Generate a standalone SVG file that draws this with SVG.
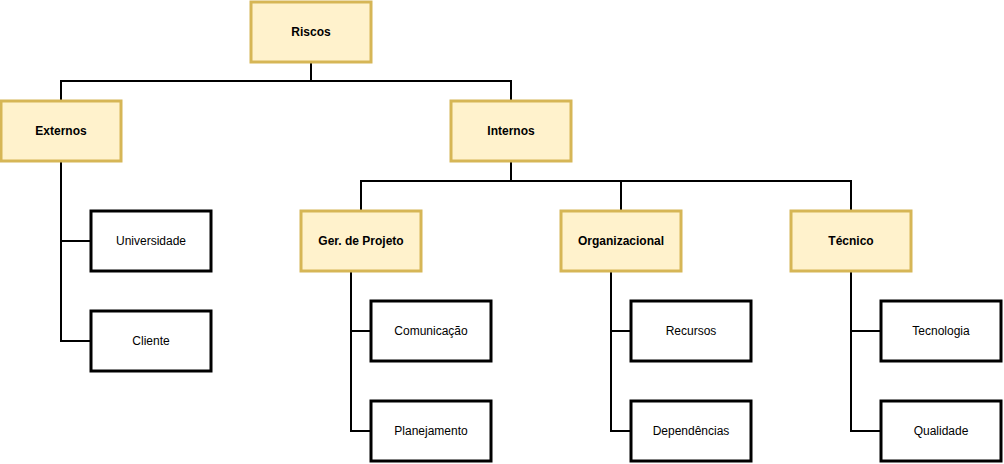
<svg xmlns="http://www.w3.org/2000/svg" width="1004" height="464" viewBox="0 0 1004 464">
<style>
.cat rect{fill:#fff2cc;stroke:#d6b656;stroke-width:3}
.leaf rect{fill:#ffffff;stroke:#000000;stroke-width:3}
.cat text{font-family:"Liberation Sans",Arial,sans-serif;font-size:12px;font-weight:bold;fill:#000;text-anchor:middle;dominant-baseline:central}
.leaf text{font-family:"Liberation Sans",Arial,sans-serif;font-size:12px;fill:#000;text-anchor:middle;dominant-baseline:central}
#connectors path{fill:none;stroke:#000;stroke-width:2}
</style>
<rect width="1004" height="464" fill="#ffffff"/>
<g id="connectors">
<path d="M311 62V81M61 101V81H511V101"/>
<path d="M511 161V181M361 211V181H851V211M621 181V211"/>
<path d="M61 161V341H91M61 241H91"/>
<path d="M351 271V431H371M351 331H371"/>
<path d="M611 271V431H631M611 331H631"/>
<path d="M851 271V431H881M851 331H881"/>
</g>
<g id="riscos" class="cat"><rect x="251" y="2" width="120" height="60"/><text x="311" y="32">Riscos</text></g>
<g id="externos" class="cat"><rect x="1" y="101" width="120" height="60"/><text x="61" y="131">Externos</text></g>
<g id="internos" class="cat"><rect x="451" y="101" width="120" height="60"/><text x="511" y="131">Internos</text></g>
<g id="gerprojeto" class="cat"><rect x="301" y="211" width="120" height="60"/><text x="361" y="241">Ger. de Projeto</text></g>
<g id="organizacional" class="cat"><rect x="561" y="211" width="120" height="60"/><text x="621" y="241">Organizacional</text></g>
<g id="tecnico" class="cat"><rect x="791" y="211" width="120" height="60"/><text x="851" y="241">Técnico</text></g>
<g id="universidade" class="leaf"><rect x="91" y="211" width="120" height="60"/><text x="151" y="241">Universidade</text></g>
<g id="cliente" class="leaf"><rect x="91" y="311" width="120" height="60"/><text x="151" y="341">Cliente</text></g>
<g id="comunicacao" class="leaf"><rect x="371" y="301" width="120" height="60"/><text x="431" y="331">Comunicação</text></g>
<g id="planejamento" class="leaf"><rect x="371" y="401" width="120" height="60"/><text x="431" y="431">Planejamento</text></g>
<g id="recursos" class="leaf"><rect x="631" y="301" width="120" height="60"/><text x="691" y="331">Recursos</text></g>
<g id="dependencias" class="leaf"><rect x="631" y="401" width="120" height="60"/><text x="691" y="431">Dependências</text></g>
<g id="tecnologia" class="leaf"><rect x="881" y="301" width="120" height="60"/><text x="941" y="331">Tecnologia</text></g>
<g id="qualidade" class="leaf"><rect x="881" y="401" width="120" height="60"/><text x="941" y="431">Qualidade</text></g>
</svg>
